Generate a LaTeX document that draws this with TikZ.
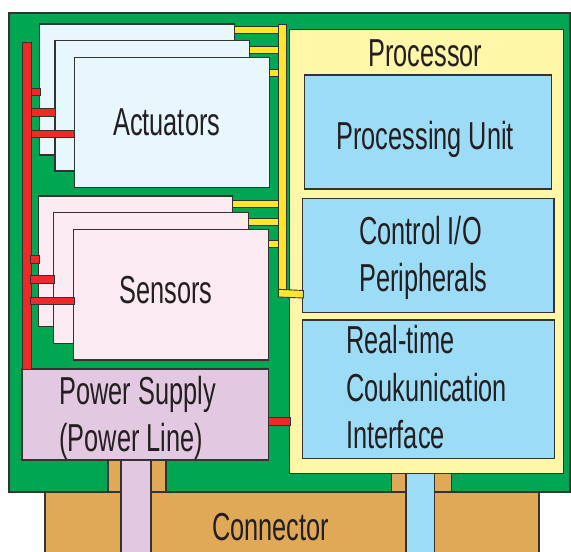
\documentclass[tikz,border=0pt]{standalone}
\usepackage{fontspec}
\newfontfamily\lblfont[FakeStretch=0.65]{Liberation Sans}
\definecolor{edge}{HTML}{333333}
\definecolor{board}{HTML}{00A651}
\definecolor{actfill}{HTML}{E8F6FD}
\definecolor{senfill}{HTML}{FCEAF2}
\definecolor{psfill}{HTML}{E3C8E1}
\definecolor{procfill}{HTML}{FFF6A8}
\definecolor{unitfill}{HTML}{9DDCF6}
\definecolor{tanfill}{HTML}{DFA957}
\definecolor{redbar}{HTML}{EE2A27}
\definecolor{yelbar}{HTML}{FFE629}
\definecolor{txt}{HTML}{231F20}
\begin{document}
\begin{tikzpicture}[x=1pt,y=-1pt,
  box/.style={draw=edge, line width=1.1pt, inner sep=0pt, outer sep=0pt, anchor=north west},
  lbl/.style={inner sep=0pt, text=txt, font=\lblfont\fontsize{39}{47}\selectfont},
  redstub/.style={draw=edge, line width=0.9pt, fill=redbar},
  yelstub/.style={draw=edge, line width=0.9pt, fill=yelbar}]
\useasboundingbox (0,0) rectangle (571,552);
\clip (0,0) rectangle (571,552);
% board and connector
\node[box, fill=board, minimum width=561, minimum height=479] (board) at (9,13) {};
\node[box, fill=tanfill, minimum width=494, minimum height=80] (conn) at (45,492) {};
\node[box, fill=tanfill, minimum width=58, minimum height=32] (pstab) at (108,460) {};
\node[box, fill=tanfill, minimum width=60, minimum height=35] (prtab) at (391.5,457) {};
\node[box, fill=psfill, minimum width=30, minimum height=110] (psstrip) at (121,460) {};
\node[box, fill=unitfill, minimum width=28.5, minimum height=110] (prstrip) at (406,457) {};
% processor
\node[box, fill=procfill, minimum width=274, minimum height=444] (proc) at (289.3,29.5) {};
\node[box, fill=unitfill, minimum width=247.5, minimum height=114] (pu) at (304.3,75) {};
\node[box, fill=unitfill, minimum width=251.5, minimum height=114] (cio) at (302.5,198.3) {};
\node[box, fill=unitfill, minimum width=251.5, minimum height=138.3] (rt) at (302.8,320) {};
% power supply
\node[box, fill=psfill, minimum width=246.3, minimum height=91] (ps) at (22,369) {};
% actuators stack
\node[box, fill=actfill, minimum width=195, minimum height=131] (act1) at (39.3,24) {};
\node[box, fill=actfill, minimum width=194.7, minimum height=130.3] (act2) at (55,40.7) {};
\node[box, fill=actfill, minimum width=195, minimum height=130.4] (act3) at (74.3,57.3) {};
% sensors stack
\node[box, fill=senfill, minimum width=194, minimum height=130.7] (sen1) at (38.3,196) {};
\node[box, fill=senfill, minimum width=195, minimum height=130.6] (sen2) at (53.3,212.7) {};
\node[box, fill=senfill, minimum width=195, minimum height=130.7] (sen3) at (73.3,229.3) {};
% red power bus
\draw[redstub] (22.7,42.7) rectangle (31.7,369);
\draw[redstub] (31.7,88.3) rectangle (40.3,95.7);
\draw[redstub] (31.7,108.7) rectangle (55,116);
\draw[redstub] (31.7,130.3) rectangle (74.3,137.7);
\draw[redstub] (30.7,255.3) rectangle (39.3,263);
\draw[redstub] (30.7,275.7) rectangle (54.3,283.3);
\draw[redstub] (30.7,297) rectangle (74,304.3);
\draw[redstub] (268,417.3) rectangle (290,425.7);
% yellow data bus
\draw[yelstub] (234.3,26) rectangle (278.3,33.3);
\draw[yelstub] (249.7,46) rectangle (278.3,53.3);
\draw[yelstub] (269.3,69) rectangle (278.3,76.7);
\draw[yelstub] (232.3,200.3) rectangle (278.3,207.7);
\draw[yelstub] (248.3,218) rectangle (278.3,225.3);
\draw[yelstub] (268.3,240.3) rectangle (278.3,247.7);
\draw[yelstub] (278.3,24.7) rectangle (286,293);
\draw[yelstub] (278.3,289.3) -- (303.3,290.5) -- (303.3,298) -- (278.3,297) -- cycle;
% labels
\node[lbl, anchor=base] (tact) at (166.7,135) {Actuators};
\node[lbl, anchor=base] (tsen) at (166,303.3) {Sensors};
\node[lbl, anchor=base] (tproc) at (425.3,66.7) {Processor};
\node[lbl, anchor=base] (tpu) at (425.2,149) {Processing Unit};
\node[lbl, anchor=base west] (tcio1) at (359,244.3) {Control I/O};
\node[lbl, anchor=base west] (tcio2) at (359,291) {Peripherals};
\node[lbl, anchor=base west] (trt1) at (346,353.3) {Real-time};
\node[lbl, anchor=base west] (trt2) at (346,401) {Coukunication};
\node[lbl, anchor=base west] (trt3) at (346,448) {Interface};
\node[lbl, anchor=base west] (tps1) at (59.3,404.3) {Power Supply};
\node[lbl, anchor=base west] (tps2) at (59.3,451.7) {(Power Line)};
\node[lbl, anchor=base] (tconn) at (270.5,540) {Connector};
\end{tikzpicture}
\end{document}
